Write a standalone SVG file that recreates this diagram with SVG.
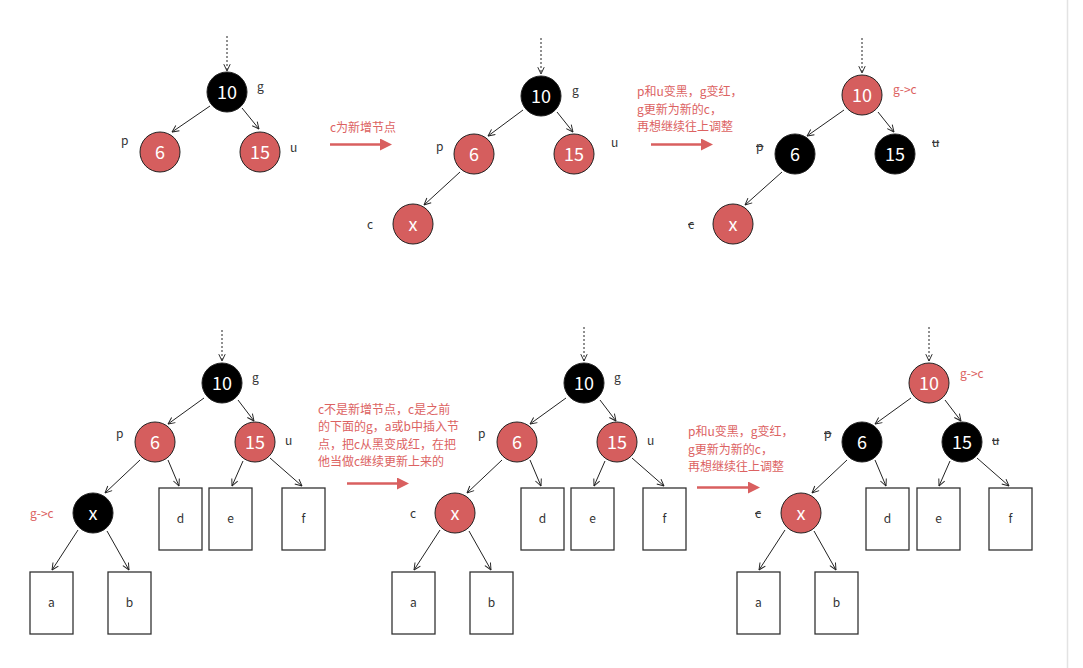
<svg xmlns="http://www.w3.org/2000/svg" width="1083" height="668" viewBox="0 0 1083 668">
<style>
.r{fill:#d55e5e;stroke:#222;stroke-width:1}
.b{fill:#000;stroke:#222;stroke-width:1}
.n{font-family:"Noto Sans CJK SC","Noto Sans",sans-serif;font-size:18px;fill:#fff;text-anchor:middle}
.lb{font-family:"Noto Sans CJK SC","Noto Sans",sans-serif;font-size:12px;fill:#333}
.st{text-decoration:line-through}
.rt{font-family:"Noto Sans CJK SC","Noto Sans",sans-serif;font-size:12px;fill:#dc6262}
.bx{fill:#fff;stroke:#333;stroke-width:1.3}
.bt{font-family:"Noto Sans CJK SC","Noto Sans",sans-serif;font-size:12px;fill:#333;text-anchor:middle}
.e{stroke:#222;stroke-width:1;fill:none;marker-end:url(#ah)}
.d{stroke:#222;stroke-width:1;fill:none;stroke-dasharray:2 2;marker-end:url(#ah)}
.ra{stroke:#d95f5f;stroke-width:2.5;fill:none;marker-end:url(#rh)}
</style>
<defs>
<marker id="ah" viewBox="0 0 10 10" refX="9.5" refY="5" markerWidth="8" markerHeight="8" markerUnits="userSpaceOnUse" orient="auto">
<path d="M1,1 L9.5,5 L1,9" fill="none" stroke="#222" stroke-width="1.2"/>
</marker>
<marker id="rh" viewBox="0 0 12 12" refX="4" refY="6" markerWidth="12" markerHeight="12" markerUnits="userSpaceOnUse" orient="auto">
<path d="M0,0 L12,6 L0,12 z" fill="#d95f5f"/>
</marker>
</defs>
<rect width="1083" height="668" fill="#fff"/>
<line x1="1067.5" y1="0" x2="1067.5" y2="668" stroke="#e3e3e3" stroke-width="1.5"/>

<g id="connectors">
<!-- T1 -->
<line class="d" x1="227" y1="36" x2="227" y2="71"/>
<line class="e" x1="210" y1="106" x2="172" y2="132"/>
<line class="e" x1="242" y1="108" x2="259" y2="129"/>
<!-- T2 -->
<line class="d" x1="541" y1="38" x2="541" y2="74"/>
<line class="e" x1="523" y1="110" x2="488" y2="136"/>
<line class="e" x1="557" y1="112" x2="573" y2="132"/>
<line class="e" x1="460" y1="172" x2="424" y2="205"/>
<!-- T3 -->
<line class="d" x1="862" y1="38" x2="862" y2="73"/>
<line class="e" x1="844" y1="110" x2="807" y2="136"/>
<line class="e" x1="878" y1="112" x2="894" y2="132"/>
<line class="e" x1="782" y1="172" x2="745" y2="205"/>
<!-- B1 R=(222,383) -->
<line class="d" x1="222" y1="330" x2="222" y2="361"/>
<line class="e" x1="204" y1="398" x2="168" y2="424"/>
<line class="e" x1="238" y1="400" x2="254" y2="421"/>
<line class="e" x1="140" y1="460" x2="105" y2="493"/>
<line class="e" x1="168" y1="460" x2="179" y2="486"/>
<line class="e" x1="243" y1="461" x2="232" y2="486"/>
<line class="e" x1="270" y1="458" x2="302" y2="486"/>
<line class="e" x1="78" y1="530" x2="52" y2="570"/>
<line class="e" x1="107" y1="531" x2="129" y2="570"/>
<!-- B2 R=(584,383) -->
<line class="d" x1="584" y1="327" x2="584" y2="361"/>
<line class="e" x1="566" y1="398" x2="530" y2="424"/>
<line class="e" x1="600" y1="400" x2="616" y2="421"/>
<line class="e" x1="502" y1="460" x2="467" y2="493"/>
<line class="e" x1="530" y1="460" x2="541" y2="486"/>
<line class="e" x1="605" y1="461" x2="594" y2="486"/>
<line class="e" x1="632" y1="458" x2="664" y2="486"/>
<line class="e" x1="440" y1="530" x2="414" y2="570"/>
<line class="e" x1="469" y1="531" x2="491" y2="570"/>
<!-- B3 R=(929,383) -->
<line class="d" x1="929" y1="327" x2="929" y2="361"/>
<line class="e" x1="911" y1="398" x2="875" y2="424"/>
<line class="e" x1="945" y1="400" x2="961" y2="421"/>
<line class="e" x1="847" y1="460" x2="812" y2="493"/>
<line class="e" x1="875" y1="460" x2="886" y2="486"/>
<line class="e" x1="950" y1="461" x2="939" y2="486"/>
<line class="e" x1="977" y1="458" x2="1009" y2="486"/>
<line class="e" x1="785" y1="530" x2="759" y2="570"/>
<line class="e" x1="814" y1="531" x2="836" y2="570"/>
<!-- red arrows -->
<line class="ra" x1="330" y1="144.5" x2="384" y2="144.5"/>
<line class="ra" x1="651" y1="144.5" x2="705" y2="144.5"/>
<line class="ra" x1="347" y1="483.5" x2="401" y2="483.5"/>
<line class="ra" x1="697" y1="487.5" x2="752" y2="487.5"/>
</g>

<!-- Top tree 1 -->
<g id="t1-g"><circle class="b" cx="227" cy="92" r="20"/><text class="n" x="227" y="98.5">10</text><text class="lb" x="257" y="91">g</text></g>
<g id="t1-p"><circle class="r" cx="160" cy="152" r="20"/><text class="n" x="160" y="158.5">6</text><text class="lb" x="121" y="145">p</text></g>
<g id="t1-u"><circle class="r" cx="260" cy="152" r="20"/><text class="n" x="260" y="158.5">15</text><text class="lb" x="290" y="152">u</text></g>

<!-- Top tree 2 -->
<g id="t2-g"><circle class="b" cx="541" cy="96" r="20"/><text class="n" x="541" y="102.5">10</text><text class="lb" x="572" y="95">g</text></g>
<g id="t2-p"><circle class="r" cx="474" cy="154" r="20"/><text class="n" x="474" y="160.5">6</text><text class="lb" x="436" y="151">p</text></g>
<g id="t2-u"><circle class="r" cx="574" cy="154" r="20"/><text class="n" x="574" y="160.5">15</text><text class="lb" x="611" y="147">u</text></g>
<g id="t2-c"><circle class="r" cx="413" cy="224" r="20"/><text class="n" x="413" y="230.5">x</text><text class="lb" x="367" y="229">c</text></g>

<!-- Top tree 3 -->
<g id="t3-g"><circle class="r" cx="862" cy="95" r="20"/><text class="n" x="862" y="101.5">10</text><text class="rt" x="893" y="94">g-&gt;c</text></g>
<g id="t3-p"><circle class="b" cx="795" cy="154" r="20"/><text class="n" x="795" y="160.5">6</text><text class="lb st" x="756" y="151">p</text></g>
<g id="t3-u"><circle class="b" cx="895" cy="154" r="20"/><text class="n" x="895" y="160.5">15</text><text class="lb st" x="932" y="147">u</text></g>
<g id="t3-c"><circle class="r" cx="733" cy="224" r="20"/><text class="n" x="733" y="230.5">x</text><text class="lb st" x="688" y="229">c</text></g>

<!-- Bottom tree 1 -->
<g id="b1-g"><circle class="b" cx="222" cy="383" r="20"/><text class="n" x="222" y="389.5">10</text><text class="lb" x="252" y="382">g</text></g>
<g id="b1-p"><circle class="r" cx="155" cy="442" r="20"/><text class="n" x="155" y="448.5">6</text><text class="lb" x="116" y="438">p</text></g>
<g id="b1-u"><circle class="r" cx="255" cy="442" r="20"/><text class="n" x="255" y="448.5">15</text><text class="lb" x="285" y="445">u</text></g>
<g id="b1-c"><circle class="b" cx="93" cy="513" r="20"/><text class="n" x="93" y="519.5">x</text><text class="rt" x="30" y="518">g-&gt;c</text></g>
<g id="b1-d"><rect class="bx" x="159" y="488" width="43" height="62"/><text class="bt" x="180.5" y="523">d</text></g>
<g id="b1-e"><rect class="bx" x="209" y="488" width="43" height="62"/><text class="bt" x="230.5" y="523">e</text></g>
<g id="b1-f"><rect class="bx" x="282" y="488" width="43" height="62"/><text class="bt" x="303.5" y="523">f</text></g>
<g id="b1-a"><rect class="bx" x="30" y="572" width="43" height="62"/><text class="bt" x="51.5" y="607">a</text></g>
<g id="b1-b"><rect class="bx" x="108" y="572" width="43" height="62"/><text class="bt" x="129.5" y="607">b</text></g>

<!-- Bottom tree 2 -->
<g id="b2-g"><circle class="b" cx="584" cy="383" r="20"/><text class="n" x="584" y="389.5">10</text><text class="lb" x="614" y="382">g</text></g>
<g id="b2-p"><circle class="r" cx="517" cy="442" r="20"/><text class="n" x="517" y="448.5">6</text><text class="lb" x="478" y="438">p</text></g>
<g id="b2-u"><circle class="r" cx="617" cy="442" r="20"/><text class="n" x="617" y="448.5">15</text><text class="lb" x="647" y="445">u</text></g>
<g id="b2-c"><circle class="r" cx="455" cy="513" r="20"/><text class="n" x="455" y="519.5">x</text><text class="lb" x="410" y="518">c</text></g>
<g id="b2-d"><rect class="bx" x="521" y="488" width="43" height="62"/><text class="bt" x="542.5" y="523">d</text></g>
<g id="b2-e"><rect class="bx" x="571" y="488" width="43" height="62"/><text class="bt" x="592.5" y="523">e</text></g>
<g id="b2-f"><rect class="bx" x="643" y="488" width="43" height="62"/><text class="bt" x="664.5" y="523">f</text></g>
<g id="b2-a"><rect class="bx" x="392" y="572" width="43" height="62"/><text class="bt" x="413.5" y="607">a</text></g>
<g id="b2-b"><rect class="bx" x="470" y="572" width="43" height="62"/><text class="bt" x="491.5" y="607">b</text></g>

<!-- Bottom tree 3 -->
<g id="b3-g"><circle class="r" cx="929" cy="383" r="20"/><text class="n" x="929" y="389.5">10</text><text class="rt" x="960" y="378">g-&gt;c</text></g>
<g id="b3-p"><circle class="b" cx="862" cy="442" r="20"/><text class="n" x="862" y="448.5">6</text><text class="lb st" x="824" y="438">p</text></g>
<g id="b3-u"><circle class="b" cx="962" cy="442" r="20"/><text class="n" x="962" y="448.5">15</text><text class="lb st" x="992" y="445">u</text></g>
<g id="b3-c"><circle class="r" cx="801" cy="513" r="20"/><text class="n" x="801" y="519.5">x</text><text class="lb st" x="755" y="518">c</text></g>
<g id="b3-d"><rect class="bx" x="866" y="488" width="43" height="62"/><text class="bt" x="887.5" y="523">d</text></g>
<g id="b3-e"><rect class="bx" x="917" y="488" width="43" height="62"/><text class="bt" x="938.5" y="523">e</text></g>
<g id="b3-f"><rect class="bx" x="989" y="488" width="43" height="62"/><text class="bt" x="1010.5" y="523">f</text></g>
<g id="b3-a"><rect class="bx" x="737" y="572" width="43" height="62"/><text class="bt" x="758.5" y="607">a</text></g>
<g id="b3-b"><rect class="bx" x="815" y="572" width="43" height="62"/><text class="bt" x="836.5" y="607">b</text></g>

<!-- Annotations -->
<g id="note1"><text class="rt" x="330" y="132">c为新增节点</text></g>
<g id="note2"><text class="rt" x="637" y="96">p和u变黑，g变红，</text><text class="rt" x="637" y="113.5">g更新为新的c，</text><text class="rt" x="637" y="131">再想继续往上调整</text></g>
<g id="note3"><text class="rt" x="318" y="413.5">c不是新增节点，c是之前</text><text class="rt" x="318" y="431">的下面的g，a或b中插入节</text><text class="rt" x="318" y="448.5">点，把c从黑变成红，在把</text><text class="rt" x="318" y="466">他当做c继续更新上来的</text></g>
<g id="note4"><text class="rt" x="688" y="436">p和u变黑，g变红，</text><text class="rt" x="688" y="453.5">g更新为新的c，</text><text class="rt" x="688" y="471">再想继续往上调整</text></g>
</svg>
